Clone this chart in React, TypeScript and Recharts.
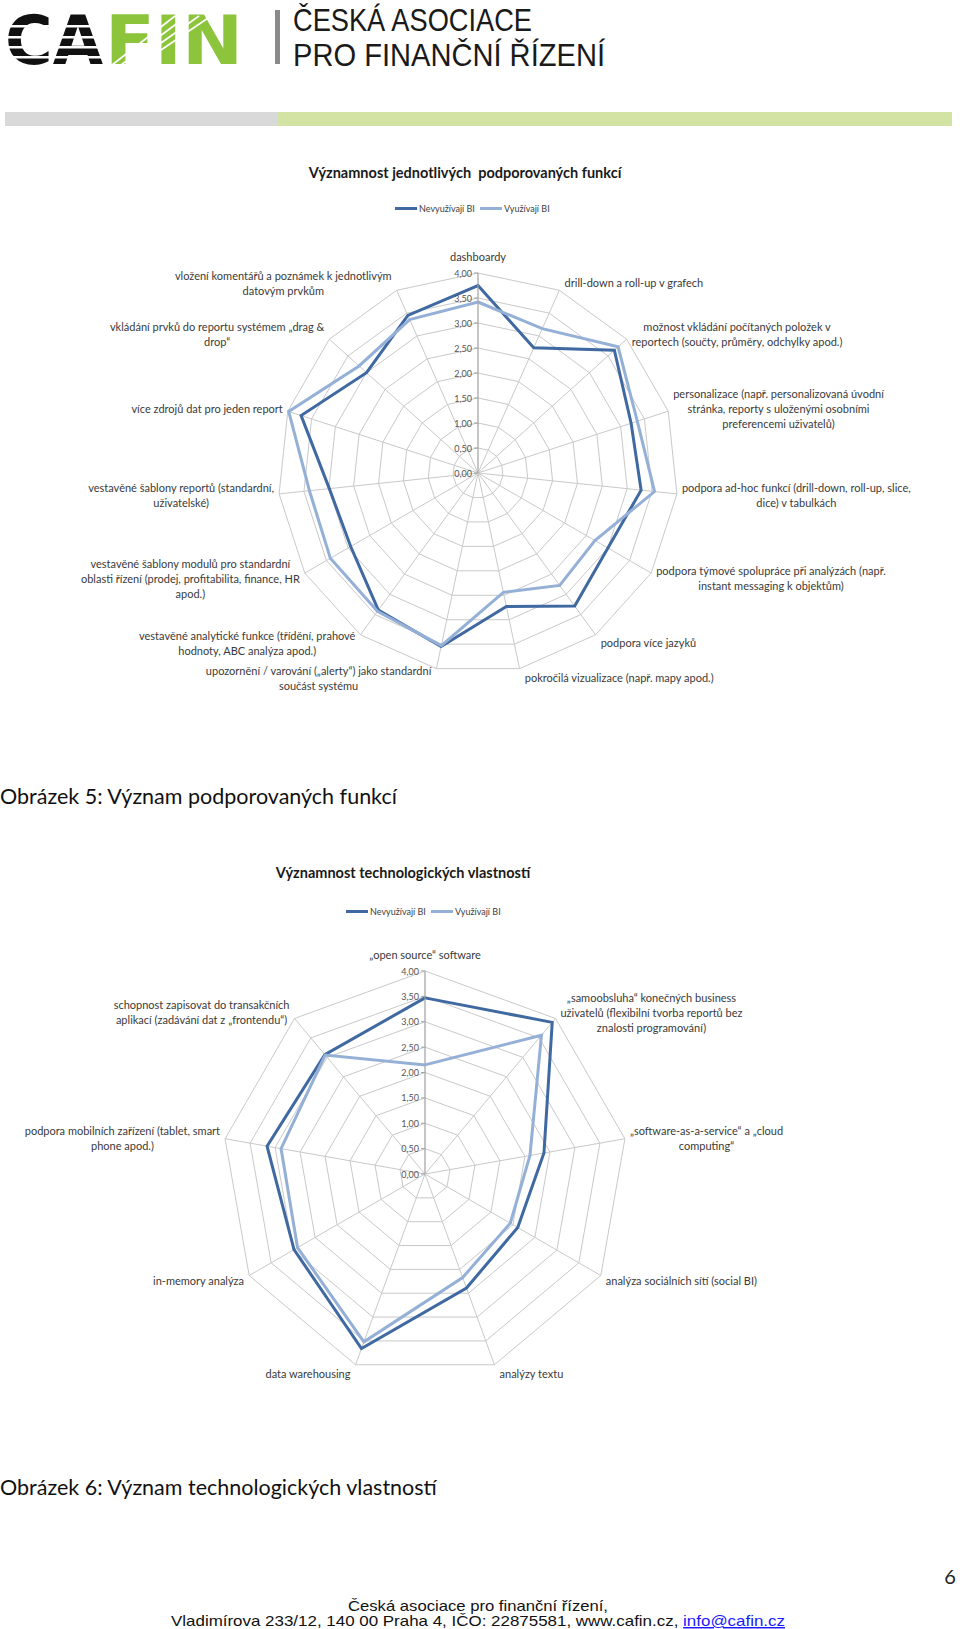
import { Legend, PolarAngleAxis, PolarGrid, PolarRadiusAxis, Radar, RadarChart } from 'recharts'

// --- data: chart 1 (supported functions) ---
const FUNC_CATS = [
  'dashboardy',
  'drill-down a roll-up v grafech',
  'možnost vkládání počítaných položek v\nreportech (součty, průměry, odchylky apod.)',
  'personalizace (např. personalizovaná úvodní\nstránka, reporty s uloženými osobními\npreferencemi uživatelů)',
  'podpora ad-hoc funkcí (drill-down, roll-up, slice,\ndice) v tabulkách',
  'podpora týmové spolupráce při analýzách (např.\ninstant messaging k objektům)',
  'podpora více jazyků',
  'pokročilá vizualizace (např. mapy apod.)',
  'upozornění / varování („alerty“) jako standardní\nsoučást systému',
  'vestavěné analytické funkce (třídění, prahové\nhodnoty, ABC analýza apod.)',
  'vestavěné šablony modulů pro standardní\noblasti řízení (prodej, profitabilita, finance, HR\napod.)',
  'vestavěné šablony reportů (standardní,\nuživatelské)',
  'více zdrojů dat pro jeden report',
  'vkládání prvků do reportu systémem „drag &\ndrop“',
  'vložení komentářů a poznámek k jednotlivým\ndatovým prvkům',
]
const FUNC_NEV = [3.75, 2.74, 3.67, 3.22, 3.28, 3.0, 3.29, 2.73, 3.55, 3.39, 2.94, 2.99, 3.72, 3.0, 3.45]
const FUNC_VYU = [3.42, 3.16, 3.77, 3.35, 3.55, 2.7, 2.78, 2.44, 3.53, 3.42, 3.41, 3.39, 3.98, 3.2, 3.36]

// --- data: chart 2 (technology properties) ---
const TECH_CATS = [
  '„open source“ software',
  '„samoobsluha“ konečných business\nuživatelů (flexibilní tvorba reportů bez\nznalosti programování)',
  '„software-as-a-service“ a „cloud\ncomputing“',
  'analýza sociálních sítí (social BI)',
  'analýzy textu',
  'data warehousing',
  'in-memory analýza',
  'podpora mobilních zařízení (tablet, smart\nphone apod.)',
  'schopnost zapisovat do transakčních\naplikací (zadávání dat z „frontendu“)',
]
const TECH_NEV = [3.47, 3.9, 2.38, 2.11, 2.39, 3.66, 2.98, 3.16, 3.07]
const TECH_VYU = [2.15, 3.57, 2.1, 1.94, 2.17, 3.52, 2.9, 2.88, 3.06]

const RADIUS_TICKS = [0, 0.5, 1, 1.5, 2, 2.5, 3, 3.5, 4]

const SERIES = [
  { key: 'nev', name: 'Nevyužívají BI', color: '#3f69a0' },
  { key: 'vyu', name: 'Využívají BI', color: '#95b0d6' },
]

const FONT = 'Lato, "Open Sans", sans-serif'
const NARROW = '"Liberation Sans Narrow", "Liberation Sans", Arial, sans-serif'
const LABEL_SIZE = 11
const LINE_H = 15
const GRID = '#c9c9c9'

let ctx: CanvasRenderingContext2D | null = null
function measure(s: string) {
  if (!ctx) ctx = document.createElement('canvas').getContext('2d')
  if (!ctx) return s.length * 5
  ctx.font = `${LABEL_SIZE}px Lato`
  return ctx.measureText(s).width
}

function fmt(v: number) {
  return v.toFixed(2).replace('.', ',')
}

// Excel-style category labels: placed just outside the outer ring vertex,
// lines centred within their block, block pushed away from the spoke.
function angleTick(cx: number, cy: number, R: number) {
  return (props: any) => {
    const { x, y, payload } = props
    const dx = x - cx
    const dy = y - cy
    const d = Math.hypot(dx, dy) || 1
    const ux = dx / d
    const uy = dy / d
    const vx = cx + R * ux
    const vy = cy + R * uy
    const lines = String(payload.value).split('\n')
    const w = Math.max(...lines.map(measure))
    let mx = vx
    let my = vy + 9 * uy
    if (Math.abs(ux) < 0.1) my = vy + 17 * uy
    else if (ux > 0) mx = vx + 5 + w / 2
    else mx = vx - 5 - w / 2
    const top = my - ((lines.length - 1) * LINE_H) / 2
    return (
      <text textAnchor="middle" fontSize={LABEL_SIZE} fill="#3a3a3a" fontFamily={FONT} dominantBaseline="central">
        {lines.map((l, i) => (
          <tspan key={i} x={mx} y={top + i * LINE_H}>
            {l}
          </tspan>
        ))}
      </text>
    )
  }
}

function radiusTick(props: any) {
  const { x, y, payload } = props
  return (
    <g>
      <line x1={x - 4} x2={x} y1={y} y2={y} stroke="#a0a0a0" />
      <text x={x - 6} y={y} textAnchor="end" dominantBaseline="central" fontSize={9} fill="#555" fontFamily={FONT}>
        {fmt(Number(payload.value))}
      </text>
    </g>
  )
}

function LegendRow() {
  return (
    <div style={{ display: 'flex', alignItems: 'center', fontSize: 9, color: '#404040', fontFamily: FONT, whiteSpace: 'nowrap' }}>
      {SERIES.map((s) => (
        <span key={s.key} style={{ display: 'flex', alignItems: 'center', marginRight: 5 }}>
          <span style={{ display: 'inline-block', width: 22, height: 3, background: s.color, marginRight: 2 }} />
          {s.name}
        </span>
      ))}
    </div>
  )
}

function Spider({
  top, height, cx, cy, R, cats, nev, vyu, title, titleX, legendLeft, legendTop,
}: {
  top: number; height: number; cx: number; cy: number; R: number
  cats: string[]; nev: number[]; vyu: number[]
  title: string; titleX: number; legendLeft: number; legendTop: number
}) {
  const data = cats.map((c, i) => ({ cat: c, nev: nev[i], vyu: vyu[i] }))
  return (
    <div style={{ position: 'absolute', left: 0, top, width: 960, height }}>
      <div
        style={{
          position: 'absolute', left: titleX - 300, width: 600, top: 24, textAlign: 'center',
          fontFamily: FONT, fontWeight: 700, fontSize: 14.5, color: '#1a1a1a', whiteSpace: 'pre',
        }}
      >
        {title}
      </div>
      <RadarChart width={960} height={height} data={data} cx={cx} cy={cy} outerRadius={R} startAngle={90} endAngle={-270}>
        <PolarGrid gridType="polygon" stroke={GRID} />
        <PolarAngleAxis dataKey="cat" axisLine={false} tickLine={false} tick={angleTick(cx, cy, R)} />
        <PolarRadiusAxis
          angle={90}
          type="number"
          domain={[0, 4]}
          ticks={RADIUS_TICKS as any}
          tickCount={9}
          allowDecimals
          axisLine={{ stroke: '#a8a8a8' }}
          tick={radiusTick}
        />
        {SERIES.map((s) => (
          <Radar
            key={s.key}
            name={s.name}
            dataKey={s.key}
            stroke={s.color}
            strokeWidth={3}
            fill="none"
            fillOpacity={0}
            dot={false}
            isAnimationActive={false}
          />
        ))}
        <Legend
          content={() => <LegendRow />}
          wrapperStyle={{ position: 'absolute', top: legendTop, left: legendLeft, width: 'auto', bottom: 'auto' }}
        />
      </RadarChart>
    </div>
  )
}

function Header() {
  return (
    <svg width={960} height={130} style={{ position: 'absolute', left: 0, top: 0 }}>
      <text x={5} y={64} fontSize={68} fontWeight={900} fontFamily='"DejaVu Sans", sans-serif' textLength={98} lengthAdjust="spacingAndGlyphs" fill="#111">CA</text>
      <text x={105} y={64} fontSize={68} fontWeight={900} fontFamily='"DejaVu Sans", sans-serif' textLength={138} lengthAdjust="spacingAndGlyphs" fill="#8cc43c">FIN</text>
      {[25, 36, 46, 56].map((yy) => (
        <rect key={yy} x={4} y={yy} width={102} height={2.5} fill="#fff" />
      ))}
      {[0, 1, 2, 3].map((k) => (
        <line key={k} x1={112 + k * 9} y1={65} x2={175 + k * 12} y2={16} stroke="#fff" strokeWidth={1.6} />
      ))}
      <rect x={275} y={10} width={5} height={54} fill="#8a8a8a" />
      <text x={293} y={31} fontSize={31.5} fontFamily={NARROW} textLength={239} lengthAdjust="spacingAndGlyphs" fill="#1a1a1a">ČESKÁ ASOCIACE</text>
      <text x={293} y={66} fontSize={31.5} fontFamily={NARROW} textLength={312} lengthAdjust="spacingAndGlyphs" fill="#1a1a1a">PRO FINANČNÍ ŘÍZENÍ</text>
      <rect x={5} y={112} width={273} height={14} fill="#d9d9d9" />
      <rect x={278} y={112} width={674} height={14} fill="#d3e3a4" />
    </svg>
  )
}

function Footer() {
  return (
    <svg width={960} height={70} style={{ position: 'absolute', left: 0, top: 1560 }}>
      <text x={950} y={24} fontSize={20} fontFamily={FONT} textAnchor="middle" fill="#222">6</text>
      <text x={478} y={51} fontSize={14.5} fontFamily={NARROW} textAnchor="middle" textLength={260} lengthAdjust="spacingAndGlyphs" fill="#111">Česká asociace pro finanční řízení,</text>
      <text x={171} y={66} fontSize={14.5} fontFamily={NARROW} textLength={614} lengthAdjust="spacingAndGlyphs" fill="#111">
        Vladimírova 233/12, 140 00 Praha 4, IČO: 22875581, www.cafin.cz,{' '}
        <tspan fill="#1a1aff" textDecoration="underline">info@cafin.cz</tspan>
      </text>
    </svg>
  )
}

export default function App() {
  return (
    <div style={{ position: 'relative', width: 960, height: 1629, background: '#fff', overflow: 'hidden', fontFamily: FONT }}>
      <style>{'body{margin:0}'}</style>
      <Header />
      <Spider
        top={140} height={580} cx={478} cy={333} R={200}
        cats={FUNC_CATS} nev={FUNC_NEV} vyu={FUNC_VYU}
        title="Významnost jednotlivých  podporovaných funkcí" titleX={465} legendLeft={395} legendTop={63}
      />
      <div style={{ position: 'absolute', left: 0, top: 783, fontSize: 21.5, color: '#111', fontFamily: FONT }}>
        Obrázek 5: Význam podporovaných funkcí
      </div>
      <Spider
        top={840} height={560} cx={425} cy={334} R={203}
        cats={TECH_CATS} nev={TECH_NEV} vyu={TECH_VYU}
        title="Významnost technologických vlastností" titleX={403} legendLeft={346} legendTop={66}
      />
      <div style={{ position: 'absolute', left: 0, top: 1474, fontSize: 21.5, color: '#111', fontFamily: FONT }}>
        Obrázek 6: Význam technologických vlastností
      </div>
      <Footer />
    </div>
  )
}
